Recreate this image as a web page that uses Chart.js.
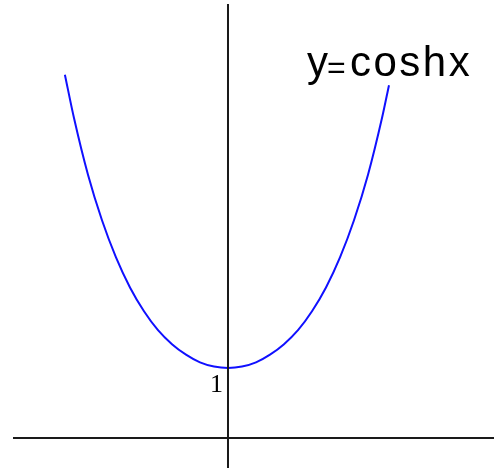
<!DOCTYPE html>
<html>
<head>
<meta charset="utf-8">
<script src="https://cdn.jsdelivr.net/npm/chart.js@4.4.1/dist/chart.umd.min.js"></script>
<style>
    html, body { margin: 0; padding: 0; background: #fff; }
    canvas { display: block; }
</style>
</head>
<body>
<canvas id="coshChart" width="494" height="468"></canvas>
<script>
// valores
const xValues = [-2.33, -2.2, -2.0, -1.8, -1.6, -1.4, -1.2, -1.0, -0.8, -0.6, -0.4, -0.2, 0,
                 0.2, 0.4, 0.6, 0.8, 1.0, 1.2, 1.4, 1.6, 1.8, 2.0, 2.2, 2.3];
const yValues = [5.19, 4.57, 3.76, 3.11, 2.58, 2.15, 1.81, 1.54, 1.34, 1.19, 1.08, 1.02, 1.00,
                 1.02, 1.08, 1.19, 1.34, 1.54, 1.81, 2.15, 2.58, 3.11, 3.76, 4.57, 5.04];
const xRange = [-3.257, 3.8];
const yRange = [-0.4286, 6.257];
const tickLabel = '1';
const titleParts = ['y', '=', 'coshx'];

const points = xValues.map((x, i) => ({ x, y: yValues[i] }));

// ejes y textos dibujados encima de la curva
const axesPlugin = {
    id: 'axesPlugin',
    afterDatasetsDraw(chart) {
        const { ctx, chartArea, scales } = chart;
        const x0 = scales.x.getPixelForValue(0);
        const y0 = scales.y.getPixelForValue(0);
        const y1 = scales.y.getPixelForValue(1);
        ctx.save();
        ctx.strokeStyle = '#1a1a1a';
        ctx.lineWidth = 2;
        ctx.beginPath();
        ctx.moveTo(x0, chartArea.top + 4);
        ctx.lineTo(x0, chartArea.bottom);
        ctx.moveTo(chartArea.left + 13, y0);
        ctx.lineTo(chartArea.right, y0);
        ctx.stroke();

        ctx.fillStyle = '#000';
        ctx.textBaseline = 'alphabetic';
        ctx.font = '26px "Liberation Serif", serif';
        ctx.textAlign = 'right';
        ctx.fillText(tickLabel, x0 - 5, y1 + 24);

        ctx.textAlign = 'left';
        ctx.font = '42px "Liberation Sans", Arial, sans-serif';
        ctx.fillText(titleParts[0], 307, 76);
        ctx.font = '32px "Liberation Sans", Arial, sans-serif';
        ctx.fillText(titleParts[1], 327, 78);
        ctx.font = '42px "Liberation Sans", Arial, sans-serif';
        ctx.letterSpacing = '2.5px';
        ctx.fillText(titleParts[2], 350, 76);
        ctx.restore();
    }
};

new Chart(document.getElementById('coshChart'), {
    type: 'scatter',
    data: {
        datasets: [{
            data: points,
            showLine: true,
            borderColor: '#1010ff',
            borderWidth: 2,
            pointRadius: 0,
            cubicInterpolationMode: 'monotone',
            fill: false
        }]
    },
    options: {
        responsive: false,
        animation: false,
        layout: { padding: 0 },
        plugins: { legend: { display: false }, tooltip: { enabled: false } },
        scales: {
            x: { type: 'linear', display: false, min: xRange[0], max: xRange[1] },
            y: { type: 'linear', display: false, min: yRange[0], max: yRange[1] }
        }
    },
    plugins: [axesPlugin]
});
</script>
</body>
</html>
